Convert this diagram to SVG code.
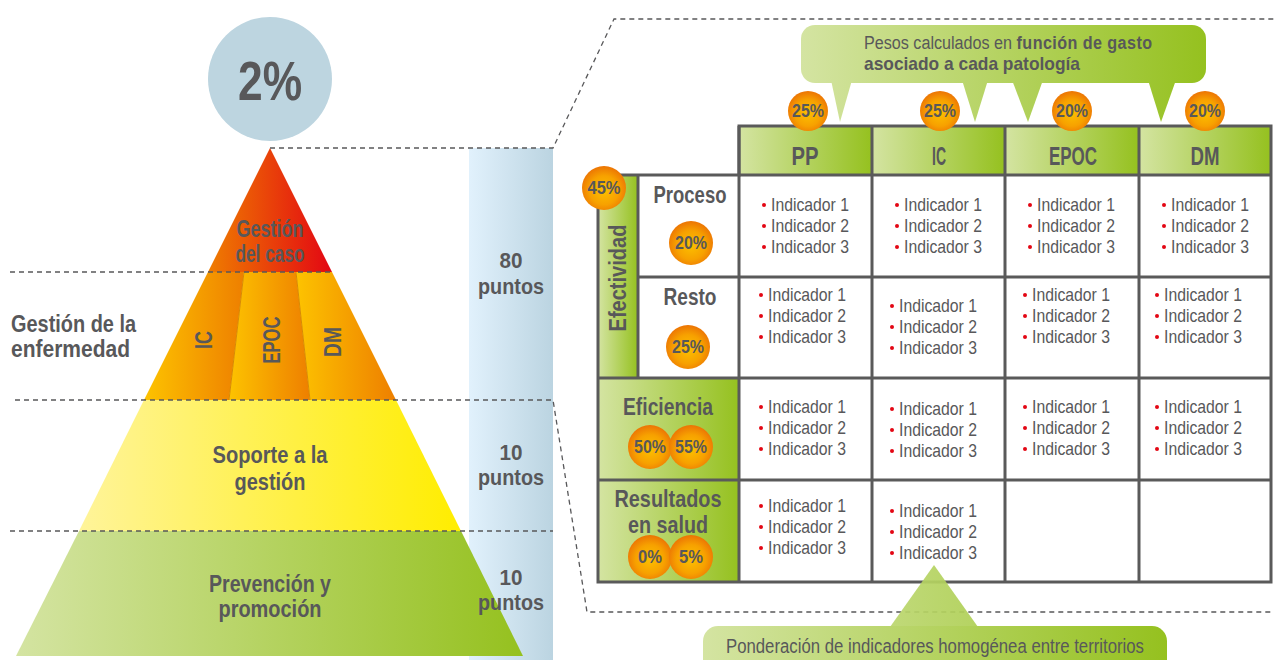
<svg xmlns="http://www.w3.org/2000/svg" width="1274" height="660" viewBox="0 0 1274 660">
  <style>
    text { font-family: "Liberation Sans", Arial, sans-serif; fill: #58585a; }
    .b { font-weight: bold; }
    .lbl { font-weight: bold; font-size: 24px; text-anchor: middle; }
    .pts { font-weight: bold; font-size: 22px; text-anchor: middle; }
    .hdr { font-weight: bold; font-size: 25px; text-anchor: middle; }
    .pct { font-weight: bold; font-size: 18px; text-anchor: middle; }
    .ind { font-size: 19px; }
    .dash { fill: none; stroke: #58585a; stroke-width: 1.3; stroke-dasharray: 5 4; }
    .grid { fill: none; stroke: #5a5a5a; stroke-width: 3; }
    .bul { fill: #e30613; }
    .badge { fill: url(#gBadge); }
  </style>
  <defs>
    <linearGradient id="gGreen" x1="0" y1="0" x2="1" y2="0">
      <stop offset="0" stop-color="#d4e4a2"/>
      <stop offset="1" stop-color="#95c11f"/>
    </linearGradient>
    <linearGradient id="gRed" x1="0" y1="0" x2="1" y2="0">
      <stop offset="0" stop-color="#ef7d00"/>
      <stop offset="1" stop-color="#e30613"/>
    </linearGradient>
    <linearGradient id="gOrange" x1="0" y1="0" x2="1" y2="0">
      <stop offset="0" stop-color="#fdc300"/>
      <stop offset="1" stop-color="#ee7f00"/>
    </linearGradient>
    <linearGradient id="gYellow" x1="0" y1="0" x2="1" y2="0">
      <stop offset="0" stop-color="#fff49a"/>
      <stop offset="1" stop-color="#ffed00"/>
    </linearGradient>
    <linearGradient id="gBlue" x1="0" y1="0" x2="1" y2="0">
      <stop offset="0" stop-color="#e1f1fc"/>
      <stop offset="1" stop-color="#bbd4e1"/>
    </linearGradient>
    <linearGradient id="gTop" gradientUnits="userSpaceOnUse" x1="801" y1="0" x2="1206" y2="0">
      <stop offset="0" stop-color="#d4e4a2"/>
      <stop offset="1" stop-color="#95c11f"/>
    </linearGradient>
    <linearGradient id="gBottom" gradientUnits="userSpaceOnUse" x1="703" y1="0" x2="1167" y2="0">
      <stop offset="0" stop-color="#d4e4a2"/>
      <stop offset="1" stop-color="#95c11f"/>
    </linearGradient>
    <radialGradient id="gBadge" cx="0.5" cy="0.55" r="0.55">
      <stop offset="0" stop-color="#fcc000"/>
      <stop offset="0.6" stop-color="#f7a100"/>
      <stop offset="1" stop-color="#ec7404"/>
    </radialGradient>
  </defs>

  <!-- points column behind the pyramid -->
  <rect id="points-bar" x="469" y="148" width="84" height="512" fill="url(#gBlue)"/>

  <!-- percentage disc above the apex -->
  <g id="total">
    <circle cx="270" cy="79" r="62" fill="#bdd5e0"/>
    <text x="270" y="100" class="b" font-size="56" text-anchor="middle" textLength="64" lengthAdjust="spacingAndGlyphs">2%</text>
  </g>

  <!-- pyramid levels -->
  <g id="level-caso">
    <polygon points="270,148 332,272 208,272" fill="url(#gRed)"/>
    <text x="270" y="237" class="lbl" textLength="67" lengthAdjust="spacingAndGlyphs">Gestión</text>
    <text x="270" y="262" class="lbl" textLength="69" lengthAdjust="spacingAndGlyphs">del caso</text>
  </g>
  <g id="level-enfermedad">
    <polygon points="208,272 244,272 229,400 144,400" fill="url(#gOrange)"/>
    <polygon points="244,272 296,272 310,400 229,400" fill="url(#gOrange)"/>
    <polygon points="296,272 332,272 396,400 310,400" fill="url(#gOrange)"/>
    <line x1="244" y1="272" x2="229" y2="400" stroke="#d98a00" stroke-width="1"/>
    <line x1="296" y1="272" x2="310" y2="400" stroke="#d98a00" stroke-width="1"/>
    <text transform="translate(212,340) rotate(-90)" class="lbl" font-size="23" textLength="18" lengthAdjust="spacingAndGlyphs">IC</text>
    <text transform="translate(280,340) rotate(-90)" class="lbl" font-size="23" textLength="47" lengthAdjust="spacingAndGlyphs">EPOC</text>
    <text transform="translate(341,342) rotate(-90)" class="lbl" font-size="23" textLength="30" lengthAdjust="spacingAndGlyphs">DM</text>
  </g>
  <g id="level-soporte">
    <polygon points="144,400 396,400 461,531 79,531" fill="url(#gYellow)"/>
    <text x="270" y="463" class="lbl" textLength="115" lengthAdjust="spacingAndGlyphs">Soporte a la</text>
    <text x="270" y="490" class="lbl" textLength="71" lengthAdjust="spacingAndGlyphs">gestión</text>
  </g>
  <g id="level-prevencion">
    <polygon points="79,531 461,531 523,656 16,656" fill="url(#gGreen)"/>
    <text x="270" y="592" class="lbl" textLength="122" lengthAdjust="spacingAndGlyphs">Prevención y</text>
    <text x="270" y="617" class="lbl" textLength="103" lengthAdjust="spacingAndGlyphs">promoción</text>
  </g>

  <g id="label-enfermedad">
    <text x="11" y="332" class="b" font-size="24" textLength="125" lengthAdjust="spacingAndGlyphs">Gestión de la</text>
    <text x="11" y="357" class="b" font-size="24" textLength="119" lengthAdjust="spacingAndGlyphs">enfermedad</text>
  </g>

  <g id="points-labels">
    <text x="511" y="268" class="pts" textLength="23" lengthAdjust="spacingAndGlyphs">80</text>
    <text x="511" y="294" class="pts" textLength="66" lengthAdjust="spacingAndGlyphs">puntos</text>
    <text x="511" y="460" class="pts" textLength="23" lengthAdjust="spacingAndGlyphs">10</text>
    <text x="511" y="485" class="pts" textLength="66" lengthAdjust="spacingAndGlyphs">puntos</text>
    <text x="511" y="585" class="pts" textLength="23" lengthAdjust="spacingAndGlyphs">10</text>
    <text x="511" y="610" class="pts" textLength="66" lengthAdjust="spacingAndGlyphs">puntos</text>
  </g>

  <!-- dashed guide lines -->
  <g id="connectors">
    <path class="dash" d="M270,148 H553 L614,19 H1274"/>
    <path class="dash" d="M10,272 H332"/>
    <path class="dash" d="M15,400 H553 L587,612 H1274"/>
    <path class="dash" d="M10,531 H553"/>
  </g>

  <!-- weighting table -->
  <g id="table">
    <rect x="739" y="126" width="133" height="49" fill="url(#gGreen)"/>
    <rect x="872" y="126" width="133" height="49" fill="url(#gGreen)"/>
    <rect x="1005" y="126" width="134" height="49" fill="url(#gGreen)"/>
    <rect x="1139" y="126" width="132" height="49" fill="url(#gGreen)"/>
    <rect x="739" y="175" width="532" height="407" fill="#ffffff"/>
    <rect x="638" y="175" width="101" height="203" fill="#ffffff"/>
    <rect x="598" y="175" width="40" height="203" fill="url(#gGreen)"/>
    <rect x="598" y="378" width="141" height="102" fill="url(#gGreen)"/>
    <rect x="598" y="480" width="141" height="102" fill="url(#gGreen)"/>
    <path class="grid" d="M739,126 H1271 V582 H598 V175 H739 Z"/>
    <path class="grid" d="M739,126 V582 M872,126 V582 M1005,126 V582 M1139,126 V582"/>
    <path class="grid" d="M739,175 H1271 M638,277 H1271 M598,378 H1271 M598,480 H1271 M638,175 V378"/>
  </g>

  <g id="headers">
    <text x="805" y="165" class="hdr" textLength="27" lengthAdjust="spacingAndGlyphs">PP</text>
    <text x="939" y="165" class="hdr" textLength="14" lengthAdjust="spacingAndGlyphs">IC</text>
    <text x="1073" y="165" class="hdr" textLength="48" lengthAdjust="spacingAndGlyphs">EPOC</text>
    <text x="1205" y="165" class="hdr" textLength="29" lengthAdjust="spacingAndGlyphs">DM</text>
  </g>

  <g id="row-labels">
    <text transform="translate(626,278) rotate(-90)" class="lbl" font-size="23" textLength="107" lengthAdjust="spacingAndGlyphs">Efectividad</text>
    <text x="690" y="203" class="lbl" textLength="73" lengthAdjust="spacingAndGlyphs">Proceso</text>
    <text x="690" y="305" class="lbl" textLength="53" lengthAdjust="spacingAndGlyphs">Resto</text>
    <text x="668" y="415" class="lbl" textLength="90" lengthAdjust="spacingAndGlyphs">Eficiencia</text>
    <text x="668" y="507" class="lbl" textLength="107" lengthAdjust="spacingAndGlyphs">Resultados</text>
    <text x="668" y="533" class="lbl" textLength="80" lengthAdjust="spacingAndGlyphs">en salud</text>
  </g>

  <!-- indicator lists -->
  <g id="indicators">
    <g transform="translate(771,211)">
      <circle class="bul" cx="-7" cy="-6" r="2"/><text class="ind" textLength="78" lengthAdjust="spacingAndGlyphs">Indicador 1</text>
      <circle class="bul" cx="-7" cy="15" r="2"/><text y="21" class="ind" textLength="78" lengthAdjust="spacingAndGlyphs">Indicador 2</text>
      <circle class="bul" cx="-7" cy="36" r="2"/><text y="42" class="ind" textLength="78" lengthAdjust="spacingAndGlyphs">Indicador 3</text>
    </g>
    <g transform="translate(904,211)">
      <circle class="bul" cx="-7" cy="-6" r="2"/><text class="ind" textLength="78" lengthAdjust="spacingAndGlyphs">Indicador 1</text>
      <circle class="bul" cx="-7" cy="15" r="2"/><text y="21" class="ind" textLength="78" lengthAdjust="spacingAndGlyphs">Indicador 2</text>
      <circle class="bul" cx="-7" cy="36" r="2"/><text y="42" class="ind" textLength="78" lengthAdjust="spacingAndGlyphs">Indicador 3</text>
    </g>
    <g transform="translate(1037,211)">
      <circle class="bul" cx="-7" cy="-6" r="2"/><text class="ind" textLength="78" lengthAdjust="spacingAndGlyphs">Indicador 1</text>
      <circle class="bul" cx="-7" cy="15" r="2"/><text y="21" class="ind" textLength="78" lengthAdjust="spacingAndGlyphs">Indicador 2</text>
      <circle class="bul" cx="-7" cy="36" r="2"/><text y="42" class="ind" textLength="78" lengthAdjust="spacingAndGlyphs">Indicador 3</text>
    </g>
    <g transform="translate(1171,211)">
      <circle class="bul" cx="-7" cy="-6" r="2"/><text class="ind" textLength="78" lengthAdjust="spacingAndGlyphs">Indicador 1</text>
      <circle class="bul" cx="-7" cy="15" r="2"/><text y="21" class="ind" textLength="78" lengthAdjust="spacingAndGlyphs">Indicador 2</text>
      <circle class="bul" cx="-7" cy="36" r="2"/><text y="42" class="ind" textLength="78" lengthAdjust="spacingAndGlyphs">Indicador 3</text>
    </g>

    <g transform="translate(768,301)">
      <circle class="bul" cx="-7" cy="-6" r="2"/><text class="ind" textLength="78" lengthAdjust="spacingAndGlyphs">Indicador 1</text>
      <circle class="bul" cx="-7" cy="15" r="2"/><text y="21" class="ind" textLength="78" lengthAdjust="spacingAndGlyphs">Indicador 2</text>
      <circle class="bul" cx="-7" cy="36" r="2"/><text y="42" class="ind" textLength="78" lengthAdjust="spacingAndGlyphs">Indicador 3</text>
    </g>
    <g transform="translate(899,312)">
      <circle class="bul" cx="-7" cy="-6" r="2"/><text class="ind" textLength="78" lengthAdjust="spacingAndGlyphs">Indicador 1</text>
      <circle class="bul" cx="-7" cy="15" r="2"/><text y="21" class="ind" textLength="78" lengthAdjust="spacingAndGlyphs">Indicador 2</text>
      <circle class="bul" cx="-7" cy="36" r="2"/><text y="42" class="ind" textLength="78" lengthAdjust="spacingAndGlyphs">Indicador 3</text>
    </g>
    <g transform="translate(1032,301)">
      <circle class="bul" cx="-7" cy="-6" r="2"/><text class="ind" textLength="78" lengthAdjust="spacingAndGlyphs">Indicador 1</text>
      <circle class="bul" cx="-7" cy="15" r="2"/><text y="21" class="ind" textLength="78" lengthAdjust="spacingAndGlyphs">Indicador 2</text>
      <circle class="bul" cx="-7" cy="36" r="2"/><text y="42" class="ind" textLength="78" lengthAdjust="spacingAndGlyphs">Indicador 3</text>
    </g>
    <g transform="translate(1164,301)">
      <circle class="bul" cx="-7" cy="-6" r="2"/><text class="ind" textLength="78" lengthAdjust="spacingAndGlyphs">Indicador 1</text>
      <circle class="bul" cx="-7" cy="15" r="2"/><text y="21" class="ind" textLength="78" lengthAdjust="spacingAndGlyphs">Indicador 2</text>
      <circle class="bul" cx="-7" cy="36" r="2"/><text y="42" class="ind" textLength="78" lengthAdjust="spacingAndGlyphs">Indicador 3</text>
    </g>

    <g transform="translate(768,413)">
      <circle class="bul" cx="-7" cy="-6" r="2"/><text class="ind" textLength="78" lengthAdjust="spacingAndGlyphs">Indicador 1</text>
      <circle class="bul" cx="-7" cy="15" r="2"/><text y="21" class="ind" textLength="78" lengthAdjust="spacingAndGlyphs">Indicador 2</text>
      <circle class="bul" cx="-7" cy="36" r="2"/><text y="42" class="ind" textLength="78" lengthAdjust="spacingAndGlyphs">Indicador 3</text>
    </g>
    <g transform="translate(899,415)">
      <circle class="bul" cx="-7" cy="-6" r="2"/><text class="ind" textLength="78" lengthAdjust="spacingAndGlyphs">Indicador 1</text>
      <circle class="bul" cx="-7" cy="15" r="2"/><text y="21" class="ind" textLength="78" lengthAdjust="spacingAndGlyphs">Indicador 2</text>
      <circle class="bul" cx="-7" cy="36" r="2"/><text y="42" class="ind" textLength="78" lengthAdjust="spacingAndGlyphs">Indicador 3</text>
    </g>
    <g transform="translate(1032,413)">
      <circle class="bul" cx="-7" cy="-6" r="2"/><text class="ind" textLength="78" lengthAdjust="spacingAndGlyphs">Indicador 1</text>
      <circle class="bul" cx="-7" cy="15" r="2"/><text y="21" class="ind" textLength="78" lengthAdjust="spacingAndGlyphs">Indicador 2</text>
      <circle class="bul" cx="-7" cy="36" r="2"/><text y="42" class="ind" textLength="78" lengthAdjust="spacingAndGlyphs">Indicador 3</text>
    </g>
    <g transform="translate(1164,413)">
      <circle class="bul" cx="-7" cy="-6" r="2"/><text class="ind" textLength="78" lengthAdjust="spacingAndGlyphs">Indicador 1</text>
      <circle class="bul" cx="-7" cy="15" r="2"/><text y="21" class="ind" textLength="78" lengthAdjust="spacingAndGlyphs">Indicador 2</text>
      <circle class="bul" cx="-7" cy="36" r="2"/><text y="42" class="ind" textLength="78" lengthAdjust="spacingAndGlyphs">Indicador 3</text>
    </g>

    <g transform="translate(768,512)">
      <circle class="bul" cx="-7" cy="-6" r="2"/><text class="ind" textLength="78" lengthAdjust="spacingAndGlyphs">Indicador 1</text>
      <circle class="bul" cx="-7" cy="15" r="2"/><text y="21" class="ind" textLength="78" lengthAdjust="spacingAndGlyphs">Indicador 2</text>
      <circle class="bul" cx="-7" cy="36" r="2"/><text y="42" class="ind" textLength="78" lengthAdjust="spacingAndGlyphs">Indicador 3</text>
    </g>
    <g transform="translate(899,517)">
      <circle class="bul" cx="-7" cy="-6" r="2"/><text class="ind" textLength="78" lengthAdjust="spacingAndGlyphs">Indicador 1</text>
      <circle class="bul" cx="-7" cy="15" r="2"/><text y="21" class="ind" textLength="78" lengthAdjust="spacingAndGlyphs">Indicador 2</text>
      <circle class="bul" cx="-7" cy="36" r="2"/><text y="42" class="ind" textLength="78" lengthAdjust="spacingAndGlyphs">Indicador 3</text>
    </g>
  </g>

  <!-- callout: spending-based weights -->
  <g id="callout-pesos" fill="url(#gTop)">
    <rect x="801" y="25" width="405" height="58" rx="14"/>
    <polygon points="831,80 852,80 840,122"/>
    <polygon points="962,80 988,80 975,122"/>
    <polygon points="1012,80 1043,80 1028,122"/>
    <polygon points="1148,80 1176,80 1161,122"/>
    <text transform="translate(864,48.5) scale(0.85,1)" font-size="19">Pesos calculados en <tspan class="b" letter-spacing="0.5">función de gasto</tspan></text>
    <text x="864" y="70" class="b" font-size="19" textLength="216" lengthAdjust="spacingAndGlyphs">asociado a cada patología</text>
  </g>

  <!-- callout: homogeneous weighting -->
  <g id="callout-ponderacion" fill="url(#gBottom)">
    <polygon points="890,627 978,627 934,565" opacity="0.92"/>
    <rect x="703" y="626" width="464" height="60" rx="15"/>
    <text x="726" y="653" font-size="20" textLength="418" lengthAdjust="spacingAndGlyphs">Ponderación de indicadores homogénea entre territorios</text>
  </g>

  <!-- weight badges -->
  <g id="badges">
    <circle class="badge" cx="808" cy="111" r="20"/><text x="808" y="117" class="pct" textLength="32" lengthAdjust="spacingAndGlyphs">25%</text>
    <circle class="badge" cx="940" cy="111" r="20"/><text x="940" y="117" class="pct" textLength="32" lengthAdjust="spacingAndGlyphs">25%</text>
    <circle class="badge" cx="1072" cy="111" r="20"/><text x="1072" y="117" class="pct" textLength="32" lengthAdjust="spacingAndGlyphs">20%</text>
    <circle class="badge" cx="1205" cy="111" r="20"/><text x="1205" y="117" class="pct" textLength="32" lengthAdjust="spacingAndGlyphs">20%</text>
    <circle class="badge" cx="604" cy="188" r="22"/><text x="604" y="194" class="pct" textLength="33" lengthAdjust="spacingAndGlyphs">45%</text>
    <circle class="badge" cx="691" cy="243" r="22"/><text x="691" y="249" class="pct" textLength="32" lengthAdjust="spacingAndGlyphs">20%</text>
    <circle class="badge" cx="688" cy="347" r="22"/><text x="688" y="353" class="pct" textLength="32" lengthAdjust="spacingAndGlyphs">25%</text>
    <circle class="badge" cx="650" cy="447" r="22"/><text x="650" y="453" class="pct" textLength="32" lengthAdjust="spacingAndGlyphs">50%</text>
    <circle class="badge" cx="691" cy="447" r="22"/><text x="691" y="453" class="pct" textLength="32" lengthAdjust="spacingAndGlyphs">55%</text>
    <circle class="badge" cx="650" cy="557" r="22"/><text x="650" y="563" class="pct" textLength="24" lengthAdjust="spacingAndGlyphs">0%</text>
    <circle class="badge" cx="691" cy="557" r="22"/><text x="691" y="563" class="pct" textLength="24" lengthAdjust="spacingAndGlyphs">5%</text>
  </g>
</svg>
